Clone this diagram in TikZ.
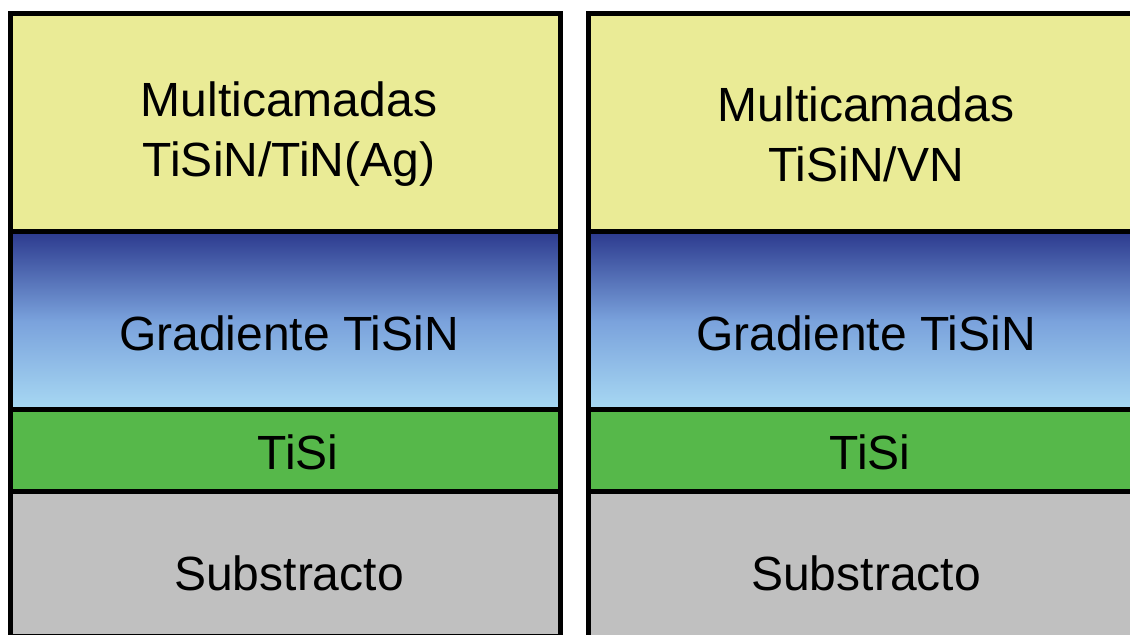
\documentclass[tikz,border=0pt]{standalone}
\usepackage{fontspec}
\setmainfont{Liberation Sans}
\definecolor{layyel}{HTML}{EAEB96}
\definecolor{laygrn}{HTML}{56B84A}
\definecolor{laygry}{HTML}{C0C0C0}
\definecolor{gtop}{HTML}{2C3A8E}
\definecolor{gmid}{HTML}{7AA2DC}
\definecolor{gbot}{HTML}{A8D9F3}
\begin{document}
\begin{tikzpicture}[x=0.5pt,y=-0.5pt,
  layer/.style={draw=black,line width=2.5pt},
  lbl/.style={font=\fontsize{24}{30}\selectfont,align=center,text=black}]
\useasboundingbox (0,0) rectangle (1130,635);
\begin{scope}
\clip (0,0) rectangle (1130,635);
% left stack
\path[layer,fill=layyel] (10,14) rectangle (560,232);
\path[layer,top color=gtop,bottom color=gbot,middle color=gmid] (10,232) rectangle (560,410);
\path[layer,fill=laygrn] (10,410) rectangle (560,492);
\path[layer,fill=laygry] (10,492) rectangle (560,637);
% right stack
\path[layer,fill=layyel] (588,14) rectangle (1144,232);
\path[layer,top color=gtop,bottom color=gbot,middle color=gmid] (588,232) rectangle (1144,410);
\path[layer,fill=laygrn] (588,410) rectangle (1144,492);
\path[layer,fill=laygry] (588,492) rectangle (1144,640);
\end{scope}
\node[lbl] (lm) at (289,134) {Multicamadas\\TiSiN/TiN(Ag)};
\node[lbl] (lg) at (289,333) {Gradiente TiSiN};
\node[lbl] (lt) at (298,452) {TiSi};
\node[lbl] (ls) at (289,573) {Substracto};
\node[lbl] (rm) at (866,134) {Multicamadas\\TiSiN/VN};
\node[lbl] (rg) at (866,333) {Gradiente TiSiN};
\node[lbl] (rt) at (870,452) {TiSi};
\node[lbl] (rs) at (866,573) {Substracto};
\end{tikzpicture}
\end{document}
